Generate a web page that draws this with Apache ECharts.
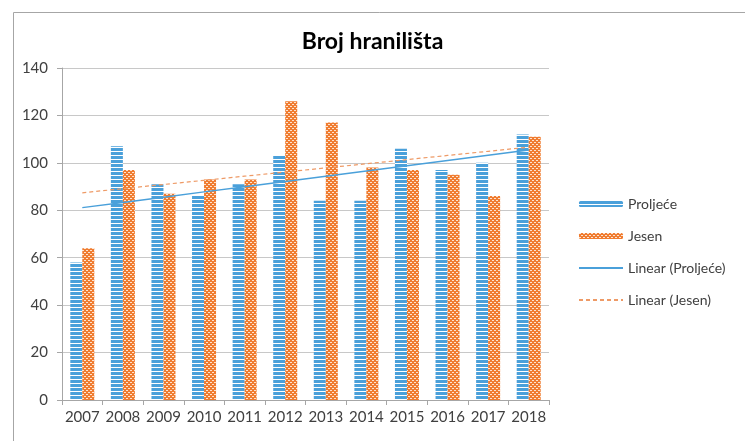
<!DOCTYPE html>
<html>
<head>
<meta charset="utf-8">
<script src="https://cdn.jsdelivr.net/npm/echarts@6/dist/echarts.min.js"></script>
<style>
  html, body { margin: 0; padding: 0; background: #fff; }
  #chart { width: 745px; height: 441px; }
</style>
</head>
<body>
<div id="chart"></div>
<script>
// podaci
const years = ['2007', '2008', '2009', '2010', '2011', '2012', '2013', '2014', '2015', '2016', '2017', '2018']
const proljece = [58, 107, 91, 86, 91, 103, 84, 84, 106, 97, 100, 112]
const jesen = [64, 97, 87, 93, 93, 126, 117, 98, 97, 95, 86, 111]

// linearni trend (najmanji kvadrati), kao u Excelu
function trend(arr) {
  const n = arr.length
  let sx = 0, sy = 0, sxy = 0, sxx = 0
  arr.forEach((y, i) => {
    const x = i + 1
    sx += x; sy += y; sxy += x * y; sxx += x * x
  })
  const k = (n * sxy - sx * sy) / (n * sxx - sx * sx)
  const b = (sy - k * sx) / n
  return arr.map((_, i) => +(k * (i + 1) + b).toFixed(2))
}

function stripes() {
  const c = document.createElement('canvas')
  c.width = 4; c.height = 4
  const ctx = c.getContext('2d')
  ctx.fillStyle = '#ffffff'
  ctx.fillRect(0, 0, 4, 4)
  ctx.fillStyle = '#4aa0da'
  ctx.fillRect(0, 0, 4, 3)
  return c
}

function checker() {
  const c = document.createElement('canvas')
  c.width = 4; c.height = 4
  const ctx = c.getContext('2d')
  ctx.fillStyle = '#f07c30'
  ctx.fillRect(0, 0, 4, 4)
  ctx.fillStyle = '#fde3cf'
  ctx.fillRect(0, 0, 2, 1)
  ctx.fillRect(2, 2, 2, 1)
  return c
}

const chart = echarts.init(document.getElementById('chart'))
const font = 'Lato, "Open Sans", sans-serif'

const option = {
  backgroundColor: '#fff',
  animation: false,
  textStyle: { fontFamily: font },
  title: {
    text: 'Broj hranilišta',
    left: 'center',
    top: 25,
    textStyle: { fontSize: 23, fontWeight: 'bold', color: '#000', fontFamily: font }
  },
  graphic: [{
    type: 'rect',
    left: 11, top: 10,
    shape: { width: 800, height: 500 },
    style: { fill: 'none', stroke: '#a6a6a6', lineWidth: 1 },
    silent: true
  }],
  legend: {
    orient: 'vertical',
    left: 578,
    top: 197,
    padding: 0,
    itemWidth: 44,
    itemHeight: 6,
    itemGap: 18,
    textStyle: { fontSize: 14, color: '#404040', fontFamily: font },
    data: ['Proljeće', 'Jesen', 'Linear (Proljeće)', 'Linear (Jesen)']
  },
  grid: { left: 62, right: 196, top: 68, bottom: 41 },
  xAxis: {
    type: 'category',
    data: years,
    axisLine: { lineStyle: { color: '#a6a6a6' } },
    axisTick: { show: true, length: 5, lineStyle: { color: '#a6a6a6' } },
    axisLabel: { fontSize: 15, color: '#404040', margin: 10, interval: 0 }
  },
  yAxis: {
    type: 'value',
    min: 0, max: 140, interval: 20,
    axisLine: { show: true, lineStyle: { color: '#a6a6a6' } },
    axisTick: { show: true, length: 5, lineStyle: { color: '#a6a6a6' } },
    axisLabel: { fontSize: 15, color: '#404040', margin: 14 },
    splitLine: { lineStyle: { color: '#c8c8c8' } }
  },
  series: [
    {
      name: 'Proljeće',
      type: 'bar',
      data: proljece,
      barWidth: 12,
      barGap: '0%',
      itemStyle: { color: { image: stripes(), repeat: 'repeat' } }
    },
    {
      name: 'Jesen',
      type: 'bar',
      data: jesen,
      barWidth: 12,
      itemStyle: { color: { image: checker(), repeat: 'repeat' } }
    },
    {
      name: 'Linear (Proljeće)',
      type: 'line',
      data: trend(proljece),
      symbol: 'none',
      lineStyle: { color: '#4aa0da', width: 1.3 },
      itemStyle: { color: '#4aa0da', opacity: 0 },
      z: 5
    },
    {
      name: 'Linear (Jesen)',
      type: 'line',
      data: trend(jesen),
      symbol: 'none',
      lineStyle: { color: '#ee9a66', width: 1.2, type: [4, 3] },
      itemStyle: { color: '#ee9a66', opacity: 0 },
      z: 5
    }
  ]
}

chart.setOption(option)
</script>
</body>
</html>
